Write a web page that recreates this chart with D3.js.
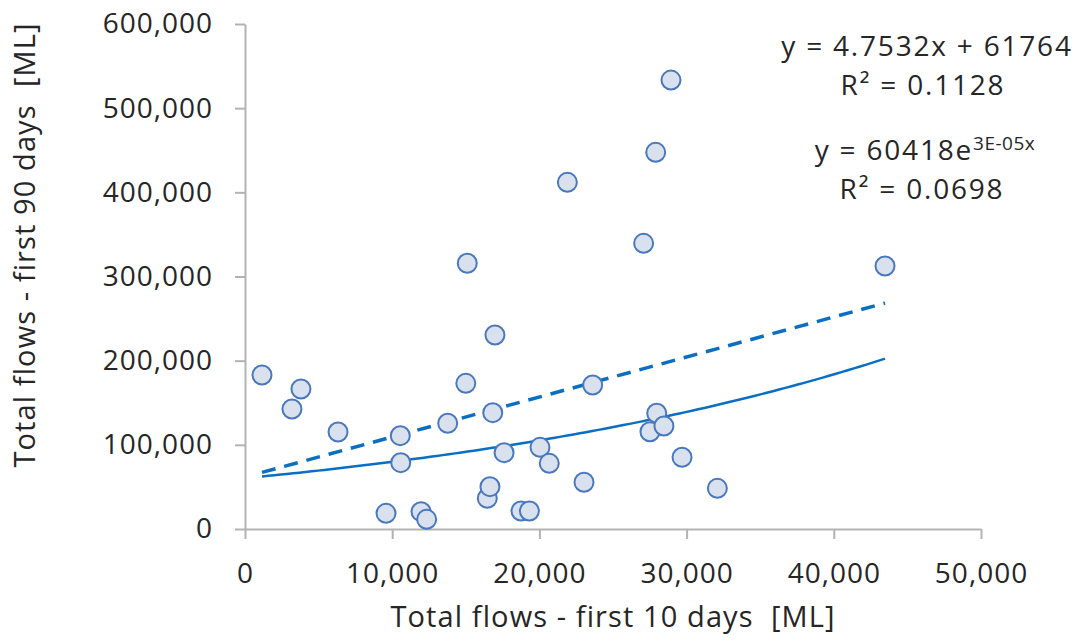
<!DOCTYPE html>
<html>
<head>
<meta charset="utf-8">
<script src="https://cdn.jsdelivr.net/npm/d3@7"></script>
<style>
  body { margin: 0; background: #fff; }
  svg text { font-family: "Open Sans", "DejaVu Sans", sans-serif; fill: #262626; }
</style>
</head>
<body>
<div id="chart"></div>
<script>
// Scatter: first 10 days vs first 90 days total flows, with Excel-style trendlines
const flows10 = [1155, 3190, 3800, 6320, 9580, 10550, 10580, 11960, 12340, 13770,
    15000, 15100, 16460, 16640, 16830, 16980, 17600, 18750, 19320, 20040,
    20670, 21900, 23030, 23620, 27080, 27510, 27900, 27970, 28460, 28940,
    29690, 32090, 43480];
const flows90 = [183000, 142600, 166300, 115200, 18600, 110900, 78800, 20600, 11500, 125600,
    173100, 315700, 36500, 50300, 138200, 230500, 90700, 21400, 21400, 97000,
    78000, 411900, 55500, 171100, 339400, 115600, 447500, 137500, 122400, 533400,
    85200, 48300, 312500];

const xTicks = [0, 10000, 20000, 30000, 40000, 50000];
const yTicks = [0, 100000, 200000, 300000, 400000, 500000, 600000];

// trendline coefficients (exp exponent is shown rounded as 3E-05)
const linSlope = 4.7532, linIntercept = 61764;
const expA = 60418, expB = 2.78e-5;

const W = 1079, H = 640;
const margin = { top: 24, right: 98, bottom: 111, left: 245 };

const svg = d3.select("#chart")
    .append("svg")
    .attr("width", W)
    .attr("height", H);

const x = d3.scaleLinear().domain([0, 50000]).range([margin.left, W - margin.right]);
const y = d3.scaleLinear().domain([0, 600000]).range([H - margin.bottom, margin.top]);

const axisColor = "#b3b3b3";
const fmt = d3.format(",");

// Axes
const gx = svg.append("g")
    .attr("transform", `translate(0,${y(0)})`)
    .call(d3.axisBottom(x).tickValues(xTicks).tickFormat(fmt).tickSize(10).tickSizeOuter(0).tickPadding(24));

const gy = svg.append("g")
    .attr("transform", `translate(${x(0)},0)`)
    .call(d3.axisLeft(y).tickValues(yTicks).tickFormat(fmt).tickSize(10).tickSizeOuter(0).tickPadding(22));

[gx, gy].forEach(g => {
    g.select(".domain").attr("stroke", axisColor).attr("stroke-width", 2);
    g.selectAll(".tick line").attr("stroke", axisColor).attr("stroke-width", 2);
    g.selectAll(".tick text")
        .style("font-family", "'Open Sans', 'DejaVu Sans', sans-serif")
        .style("font-size", "28px")
        .style("letter-spacing", "1px")
        .attr("fill", "#262626");
});

// Axis titles
svg.append("text")
    .attr("x", (x(0) + x(50000)) / 2)
    .attr("y", 627)
    .attr("text-anchor", "middle")
    .style("font-size", "29px")
    .style("letter-spacing", "1.1px")
    .style("white-space", "pre")
    .text("Total flows - first 10 days  [ML]");

svg.append("text")
    .attr("transform", `translate(35,245) rotate(-90)`)
    .attr("text-anchor", "middle")
    .style("font-size", "29px")
    .style("letter-spacing", "1.1px")
    .style("white-space", "pre")
    .text("Total flows - first 90 days  [ML]");

// Trendlines
const xMin = d3.min(flows10), xMax = d3.max(flows10);
const xs = d3.range(0, 101).map(i => xMin + (xMax - xMin) * i / 100);

const trendColor = "#0a6fc2";

svg.append("path")
    .datum(xs)
    .attr("fill", "none")
    .attr("stroke", trendColor)
    .attr("stroke-width", 2.5)
    .attr("d", d3.line().x(d => x(d)).y(d => y(expA * Math.exp(expB * d))));

svg.append("path")
    .datum([xMin, xMax])
    .attr("fill", "none")
    .attr("stroke", trendColor)
    .attr("stroke-width", 3.5)
    .attr("stroke-dasharray", "14,9")
    .attr("d", d3.line().x(d => x(d)).y(d => y(linSlope * d + linIntercept)));

// Points
svg.selectAll(".pt")
    .data(flows10.map((v, i) => ({ x: v, y: flows90[i] })))
    .enter()
    .append("circle")
    .attr("class", "pt")
    .attr("cx", d => x(d.x))
    .attr("cy", d => y(d.y))
    .attr("r", 9.5)
    .attr("fill", "#d9e1ef")
    .attr("stroke", "#4a78bd")
    .attr("stroke-width", 2);

// Trendline labels
const lab = svg.append("g")
    .style("font-size", "28px")
    .style("letter-spacing", "1.8px")
    .attr("text-anchor", "middle");
lab.append("text").attr("x", 927).attr("y", 56).text("y = 4.7532x + 61764");
lab.append("text").attr("x", 923).attr("y", 95).text("R² = 0.1128");

const e1 = lab.append("text").attr("x", 925).attr("y", 160);
e1.append("tspan").text("y = 60418e");
e1.append("tspan").attr("dy", -10).style("font-size", "19px").style("letter-spacing", "0.5px").text("3E-05x");
lab.append("text").attr("x", 922).attr("y", 199).text("R² = 0.0698");
</script>
</body>
</html>
